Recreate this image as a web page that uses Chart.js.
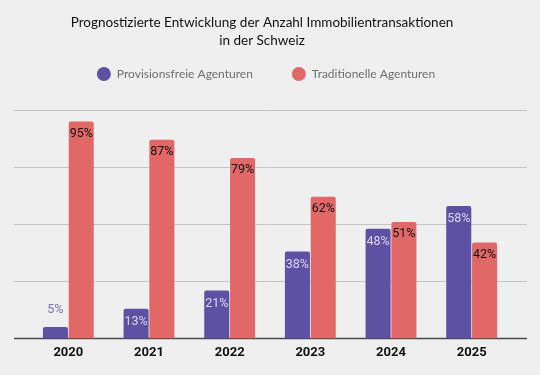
<!DOCTYPE html>
<html>
<head>
<meta charset="utf-8">
<script src="https://cdn.jsdelivr.net/npm/chart.js@4/dist/chart.umd.min.js"></script>
<style>
html,body{margin:0;padding:0;background:#efefef;}
#wrap{width:540px;height:375px;}
</style>
</head>
<body>
<div id="wrap"><canvas id="c" width="540" height="375"></canvas></div>
<script>
const titleLines = ["Prognostizierte Entwicklung der Anzahl Immobilientransaktionen", "in der Schweiz"];
const years = ["2020", "2021", "2022", "2023", "2024", "2025"];
const seriesNames = ["Provisionsfreie Agenturen", "Traditionelle Agenturen"];
const provisionsfrei = [5, 13, 21, 38, 48, 58];
const traditionell = [95, 87, 79, 62, 51, 42];
const gridValues = [0, 25, 50, 75, 100];

const PURPLE = "#5d51a4";
const RED = "#e26868";

const bgPlugin = {
  id: "bg",
  beforeDraw(chart) {
    const ctx = chart.ctx;
    ctx.save();
    ctx.fillStyle = "#efefef";
    ctx.fillRect(0, 0, chart.width, chart.height);
    ctx.restore();
  }
};

const gridPlugin = {
  id: "customGrid",
  beforeDatasetsDraw(chart) {
    const ctx = chart.ctx;
    const y = chart.scales.y;
    ctx.save();
    gridValues.forEach(v => {
      const py = Math.round(y.getPixelForValue(v)) + 0.5;
      ctx.beginPath();
      ctx.moveTo(14, py);
      ctx.lineTo(527, py);
      if (v === 0) {
        ctx.strokeStyle = "#4a4a4a";
        ctx.lineWidth = 1.5;
      } else {
        ctx.strokeStyle = "#c4c4c4";
        ctx.lineWidth = 1;
      }
      ctx.stroke();
    });
    ctx.restore();
  }
};

const legendSpace = {
  id: "legendSpace",
  beforeInit(chart) {
    const origFit = chart.legend.fit;
    chart.legend.fit = function () {
      origFit.bind(this)();
      this.height += 20;
    };
  },
  afterLayout(chart) {
    chart.legend.left -= 4;
    chart.legend.right -= 4;
    chart.titleBlock.left -= 8;
    chart.titleBlock.right -= 8;
  }
};

const labelPlugin = {
  id: "barLabels",
  afterDatasetsDraw(chart) {
    const ctx = chart.ctx;
    ctx.save();
    ctx.textAlign = "center";
    ctx.textBaseline = "middle";
    chart.data.datasets.forEach((ds, di) => {
      const meta = chart.getDatasetMeta(di);
      meta.data.forEach((bar, i) => {
        const txt = ds.data[i] + "%";
        const h = bar.base - bar.y;
        if (di === 0) {
          ctx.font = "400 12.5px Roboto";
          if (h < 20) {
            ctx.fillStyle = "#7a70bb";
            ctx.fillText(txt, bar.x, bar.y - 17);
          } else {
            ctx.fillStyle = "#dcd5f3";
            ctx.fillText(txt, bar.x, bar.y + 13);
          }
        } else {
          ctx.font = "400 12.5px Roboto";
          ctx.fillStyle = "#111111";
          ctx.fillText(txt, bar.x, bar.y + 12);
        }
      });
    });
    ctx.restore();
  }
};

new Chart(document.getElementById("c"), {
  type: "bar",
  data: {
    labels: years,
    datasets: [
      { label: seriesNames[0], data: provisionsfrei, backgroundColor: PURPLE, borderRadius: 2, borderSkipped: "bottom" },
      { label: seriesNames[1], data: traditionell, backgroundColor: RED, borderRadius: 2, borderSkipped: "bottom" }
    ]
  },
  options: {
    responsive: false,
    animation: false,
    devicePixelRatio: 1,
    layout: { padding: { left: 28, right: 28, top: 0, bottom: 7 } },
    datasets: { bar: { categoryPercentage: 0.64, barPercentage: 0.97 } },
    plugins: {
      title: {
        display: true,
        text: titleLines,
        color: "#111111",
        font: { family: "Lato", size: 13.5, weight: "normal", lineHeight: 1.333 },
        padding: { top: 14, bottom: -21 }
      },
      legend: {
        display: true,
        position: "top",
        labels: {
          usePointStyle: true,
          pointStyle: "circle",
          pointStyleWidth: 14,
          boxHeight: 10,
          padding: 39,
          color: "#6e6e6e",
          font: { family: "Lato", size: 12 }
        }
      },
      tooltip: { enabled: false }
    },
    scales: {
      x: {
        grid: { display: false, drawTicks: false },
        border: { display: false },
        ticks: { color: "#111111", font: { family: "Roboto", size: 13, weight: "bold" }, padding: 7 }
      },
      y: {
        display: false,
        min: 0,
        max: 100
      }
    }
  },
  plugins: [bgPlugin, gridPlugin, legendSpace, labelPlugin]
});
</script>
</body>
</html>
